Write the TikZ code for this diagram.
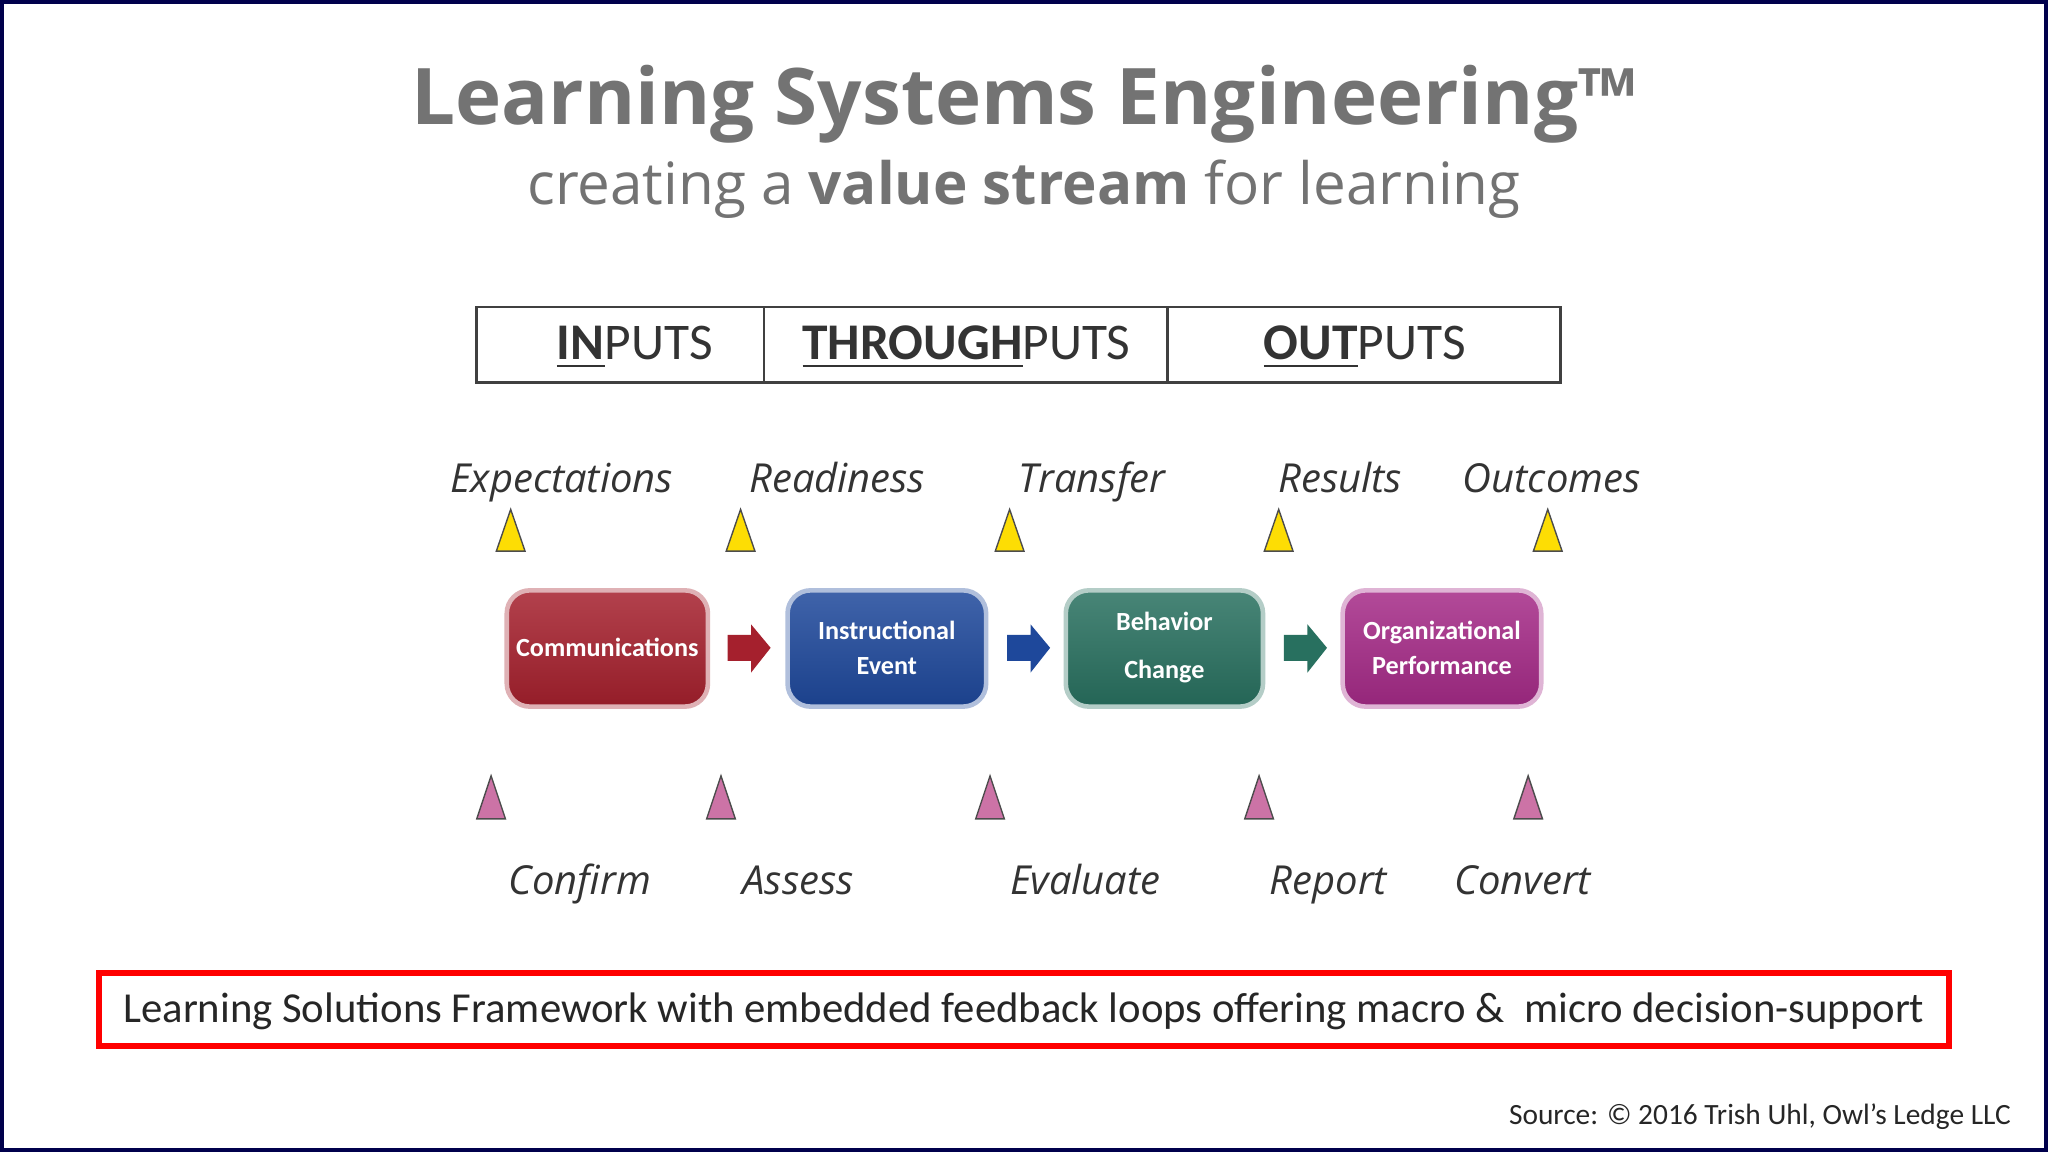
\documentclass[tikz,border=0pt]{standalone}
\usepackage{fontspec}
\setmainfont{Open Sans}
\newfontfamily\carfont{Carlito}
\definecolor{cred}{RGB}{165,32,45}
\definecolor{cblue}{RGB}{30,72,155}
\definecolor{cteal}{RGB}{40,112,95}
\definecolor{cmag}{RGB}{165,42,135}
\begin{document}
\begin{tikzpicture}[x=0.01cm,y=-0.01cm,
 tri/.style={draw=black!70,line width=0.3pt},
 ytri/.style={tri,fill=yellow!80!orange},
 ptri/.style={tri,fill=violet!40!pink},
 lab/.style={font=\fontsize{8.7}{10}\selectfont\itshape,text=black!80}]
\useasboundingbox (0,0) rectangle (1568,882);
\fill[white] (0,0) rectangle (1568,882);
\draw[blue!30!black,line width=1pt] (1.5,1.5) rectangle (1566.5,880.5);
\node (title) at (784,80) {\fontsize{17}{20}\selectfont\bfseries\color{black!55}Learning Systems Engineering™};
\node (sub) at (784,145) {\fontsize{12.7}{15}\selectfont\color{black!55}creating a \textbf{value stream} for learning};
\draw[black!75,line width=0.6pt] (365,235) rectangle (1195,293);
\draw[black!75,line width=0.6pt] (585,235) -- (585,293) (894,235)--(894,293);
\begin{scope}[font=\carfont\fontsize{11.2}{14}\selectfont,text=black!80]
\node (in) at (486,266) {\underline{\textbf{IN}}PUTS};
\node (thr) at (740,266) {\underline{\textbf{THROUGH}}PUTS};
\node (out) at (1045,266) {\underline{\textbf{OUT}}PUTS};
\end{scope}
% boxes
\foreach \n/\xa/\xb/\c/\t in {c/388/542/cred/Communications,i/603/755/cblue/{Instructional\\Event},b/816/967/cteal/{Behavior\\[3pt]Change},o/1028/1180/cmag/{Organizational\\Performance}}{
 \shade[rounded corners=5pt,top color=\c!85!white,bottom color=\c!90!black,draw=white!65!\c,line width=1pt] (\xa,452) rectangle (\xb,541);
 \node[text=white,font=\carfont\fontsize{5.7}{7.5}\selectfont\bfseries,align=center] (\n) at ({(\xa+\xb)/2},496) {\t};
}
\foreach \xa/\c in {557/cred,771/cblue,983/cteal}{
 \fill[\c] (\xa,486) -- (\xa+18,486) -- (\xa+18,478) -- (\xa+33,496) -- (\xa+18,515) -- (\xa+18,506) -- (\xa,506) -- cycle;
}
\foreach \x in {391,567,773,979,1185}{
 \draw[ytri] (\x-11,422) -- (\x,390) -- (\x+11,422) -- cycle;}
\foreach \x in {376,552,758,964,1170}{
 \draw[ptri] (\x-11,627) -- (\x,594) -- (\x+11,627) -- cycle;}
\foreach \x/\t in {430/Expectations,641/Readiness,836/Transfer,1026/Results,1188/Outcomes}
 \node[lab,anchor=base] at (\x,377) {\t};
\foreach \x/\t in {444/Confirm,611/Assess,831/Evaluate,1017/Report,1166/Convert}
 \node[lab,anchor=base] at (\x,685) {\t};
\draw[red,line width=1.4pt] (76,745) rectangle (1492,801);
\node[font=\carfont\fontsize{9.3}{11}\selectfont,text=black!85] (fw) at (784,774) {Learning Solutions Framework with embedded feedback loops offering macro \&\ \ micro decision-support};
\node[anchor=east,font=\carfont\fontsize{6.4}{8}\selectfont,text=black!85] (src) at (1552,855) {Source: © 2016 Trish Uhl, Owl’s Ledge LLC};
\end{tikzpicture}
\end{document}
